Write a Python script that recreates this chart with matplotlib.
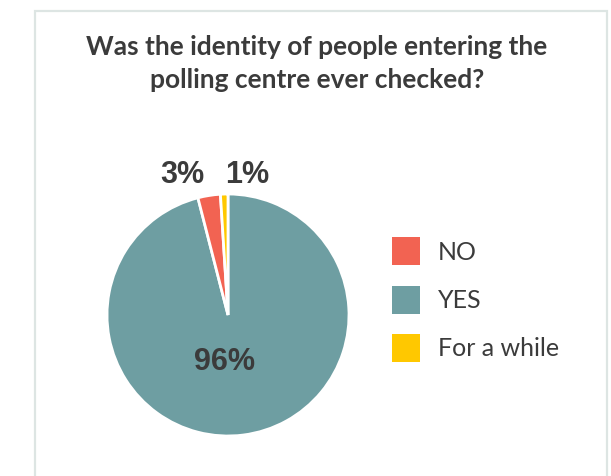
import matplotlib
matplotlib.use("Agg")
import matplotlib.pyplot as plt
from matplotlib.patches import Rectangle

# data (clockwise from 12 o'clock)
categories = ["YES", "NO", "For a while"]
shares = [96, 3, 1]
colors = ["#6e9ea2", "#f26352", "#ffc800"]

# legend order as in the reference
legend_order = ["NO", "YES", "For a while"]

W, H = 611, 477
fig = plt.figure(figsize=(W / 100, H / 100), dpi=100)
fig.patch.set_facecolor("white")

# light frame around the chart
fig.add_artist(Rectangle((35 / W, -0.05), (607 - 35) / W, 1.05 - 12 / H,
                         transform=fig.transFigure, fill=False,
                         edgecolor="#dde5e3", linewidth=1.6))

TXT = "#3b3b3b"
for i, line in enumerate(["Was the identity of people entering the",
                          "polling centre ever checked?"]):
    fig.text(317 / W, 1 - (47 + 33 * i) / H, line,
             ha="center", va="center", fontsize=19, fontweight="bold",
             family="Lato", color=TXT)

# pie: centre (228, 316), radius 121 px
cx, cy, r = 228, 316, 121
ax = fig.add_axes([(cx - r) / W, 1 - (cy + r) / H, 2 * r / W, 2 * r / H])
wedges, _ = ax.pie(shares, colors=colors, startangle=90, counterclock=False,
                   wedgeprops=dict(edgecolor="white", linewidth=2))
ax.set_xlim(-1, 1)
ax.set_ylim(-1, 1)
ax.axis("off")

lbl = dict(ha="center", va="center", fontsize=22, fontweight="bold",
           family="Liberation Sans", color=TXT, clip_on=False)
ax.text(-0.025, -0.38, f"{shares[0]}%", **lbl)
ax.text(-0.38, 1.165, f"{shares[1]}%", **lbl)
ax.text(0.157, 1.165, f"{shares[2]}%", **lbl)

# legend drawn by hand
for k, name in enumerate(legend_order):
    col = colors[categories.index(name)]
    top = 238 + k * 48.5
    fig.add_artist(Rectangle((392 / W, 1 - (top + 28) / H), 28 / W, 28 / H,
                             transform=fig.transFigure, facecolor=col,
                             edgecolor="none"))
    fig.text(438 / W, 1 - (top + 14) / H, name, ha="left", va="center",
             fontsize=18, fontweight="normal", family="Lato", color=TXT)

fig.savefig("out.png", dpi=100)
